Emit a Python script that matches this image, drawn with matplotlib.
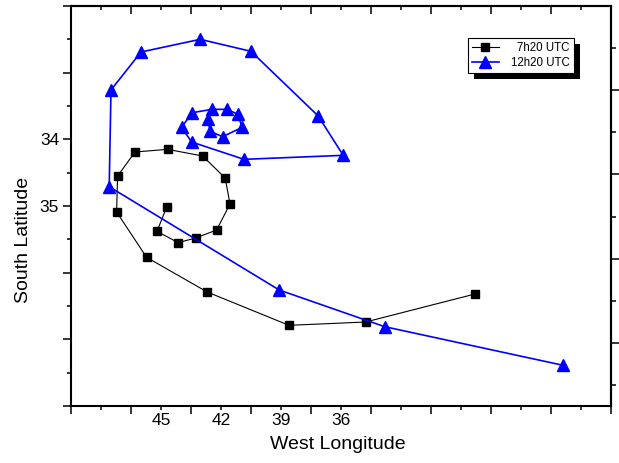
import numpy as np
import matplotlib
matplotlib.use('Agg')
import matplotlib.pyplot as plt
from matplotlib.patches import Rectangle

plt.rcParams['font.family'] = ['Liberation Sans', 'DejaVu Sans']

# 7h20 UTC track (west longitude, south latitude)
lon_0720 = [29.3, 34.77, 38.6, 42.69, 45.72, 47.22, 47.17, 46.3, 44.67, 42.92,
            41.79, 41.55, 42.22, 43.27, 44.14, 45.2, 44.72]
lat_0720 = [36.32, 36.74, 36.79, 36.29, 35.77, 35.09, 34.55, 34.19, 34.15, 34.25,
            34.58, 34.97, 35.36, 35.48, 35.55, 35.38, 35.02]

# 12h20 UTC track
lon_1220 = [24.89, 33.82, 39.09, 47.59, 47.5, 46.0, 43.04, 40.5, 37.14, 35.89,
            40.85, 43.47, 43.97, 43.44, 42.45, 41.72, 41.17, 40.94, 41.92, 42.55, 42.64]
lat_1220 = [37.39, 36.81, 36.26, 34.71, 33.26, 32.69, 32.5, 32.68, 33.65, 34.24,
            34.3, 34.04, 33.82, 33.6, 33.55, 33.55, 33.62, 33.82, 33.96, 33.88, 33.7]

lon_labels = [45, 42, 39, 36]
lat_labels = [34, 35]

# axis frame / ticks
x_major = np.arange(49.5, 22.4, -3)
x_minor = np.arange(48, 23.9, -3)
y_major = np.arange(32, 38.1, 1)
y_minor = np.arange(32.5, 38, 1)
right_major = [33.26, 34.52, 35.795, 37.055]
right_minor = [32.63, 33.89, 35.165, 36.425, 37.685]

fig = plt.figure(figsize=(6.19, 4.63), dpi=100)
ax = fig.add_axes([71 / 619, 57 / 463, 540 / 619, 400 / 463])

ax.plot(lon_0720, lat_0720, color='black', lw=0.8, marker='s', ms=6,
        mfc='black', mec='black', label='7h20 UTC')
ax.plot(lon_1220, lat_1220, color='#0000FF', lw=1.2, marker='^', ms=8,
        mfc='#0000FF', mec='#0000FF', label='12h20 UTC')

ax.set_xlim(49.5, 22.5)
ax.set_ylim(38, 32)

ax.set_xticks(x_major, labels=[''] * len(x_major))
ax.set_xticks(x_minor, labels=[str(int(v)) if int(v) in lon_labels else '' for v in x_minor],
              minor=True)
ax.set_yticks(y_major, labels=[str(int(v)) if int(v) in lat_labels else '' for v in y_major])
ax.set_yticks(y_minor, minor=True)

ax.tick_params(axis='both', which='major', direction='out', length=5.5, width=1.1,
               labelsize=12.5, top=False, right=False)
ax.tick_params(axis='both', which='minor', direction='out', length=3.2, width=1.1,
               labelsize=12.5, top=False, right=False)
ax.tick_params(axis='x', which='minor', pad=2)
ax.tick_params(axis='y', which='major', pad=3)

for s in ax.spines.values():
    s.set_linewidth(1.5)

top = ax.secondary_xaxis('top')
top.set_xticks(x_major, labels=[''] * len(x_major))
top.set_xticks(x_minor, labels=[''] * len(x_minor), minor=True)
top.tick_params(which='major', direction='in', length=5.5, width=1.1)
top.tick_params(which='minor', direction='in', length=3.2, width=1.1)
top.spines['top'].set_linewidth(1.5)

right = ax.secondary_yaxis('right')
right.set_yticks(right_major, labels=[''] * len(right_major))
right.set_yticks(right_minor, labels=[''] * len(right_minor), minor=True)
right.tick_params(which='major', direction='out', length=5.5, width=1.1)
right.tick_params(which='minor', direction='out', length=3.5, width=1.1)
right.spines['right'].set_linewidth(1.5)

ax.set_xlabel('West Longitude', fontsize=14)
ax.set_ylabel('South Latitude', fontsize=14)
ax.xaxis.set_label_coords(0.494, -0.075)
ax.yaxis.set_label_coords(-0.072, 0.414)

leg = ax.legend(loc='upper right', bbox_to_anchor=(0.931, 0.92), borderaxespad=0,
                fontsize=8.3, frameon=True, fancybox=False, framealpha=1,
                handlelength=2.4, handletextpad=1.0, labelspacing=0.25, borderpad=0.35)
leg.get_frame().set_edgecolor('black')
leg.get_frame().set_facecolor('white')
leg.get_frame().set_linewidth(0.8)

fig.canvas.draw()
renderer = fig.canvas.get_renderer()

# right-align the legend labels like the original
widths = [t.get_window_extent(renderer).width for t in leg.get_texts()]
for t, w in zip(leg.get_texts(), widths):
    t.set_position((max(widths) - w, 0))

# black drop shadow under legend
bb = leg.get_window_extent(renderer).transformed(ax.transAxes.inverted())
dx = 6 / 540
dy = 6 / 400
shadow = Rectangle((bb.x0 + dx, bb.y0 - dy), bb.width, bb.height,
                   transform=ax.transAxes, facecolor='black', edgecolor='none',
                   clip_on=False, zorder=4.9)
ax.add_patch(shadow)

fig.savefig('out.png', dpi=100)
